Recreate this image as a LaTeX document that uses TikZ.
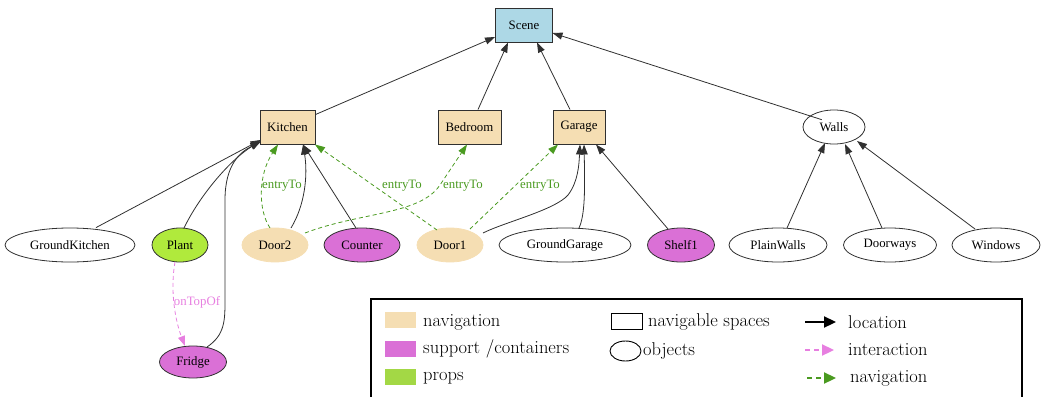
\documentclass[tikz,border=0pt]{standalone}
\usepackage{fontspec}
\setmainfont{Liberation Serif}
\newfontfamily\legendfont{Latin Modern Roman}
\usetikzlibrary{arrows.meta,shapes.geometric}
\definecolor{sceneblue}{HTML}{ADD8E6}
\definecolor{navwheat}{HTML}{F5DEB3}
\definecolor{suporchid}{HTML}{DA70D6}
\definecolor{propgreen}{HTML}{B0EA3C}
\definecolor{propswatch}{HTML}{A3D845}
\definecolor{navgreen}{HTML}{4A9A20}
\definecolor{interviolet}{HTML}{E77FE0}
\definecolor{edgegray}{HTML}{303030}
\tikzset{
  gfont/.style={font=\fontsize{12.8}{14}\selectfont},
  room/.style={gfont, draw=edgegray, line width=0.9pt, rectangle, inner sep=0pt, minimum height=34pt},
  obj/.style={gfont, draw=edgegray, line width=0.8pt, ellipse, inner sep=0pt, minimum height=34pt},
  loc/.style={draw=edgegray, line width=0.8pt, -{Triangle[length=10pt,width=7pt]}},
  nav/.style={draw=navgreen, line width=0.8pt, dash pattern=on 4pt off 3pt, -{Triangle[length=10pt,width=7pt,fill=navgreen]}},
  inter/.style={draw=interviolet, line width=0.8pt, dash pattern=on 4pt off 3pt, -{Triangle[length=10pt,width=7pt,fill=interviolet]}},
  navlbl/.style={gfont, text=navgreen, inner sep=1pt},
  interlbl/.style={gfont, text=interviolet, inner sep=1pt},
  lg/.style={font=\legendfont\fontsize{18.5}{21}\selectfont, anchor=west, inner sep=0pt},
}
\begin{document}
\begin{tikzpicture}[x=1pt,y=-1pt]
\useasboundingbox (0,0) rectangle (1051,396);
% top
\node[room, fill=sceneblue, minimum width=57pt] (scene) at (524,25) {Scene};
\node[room, fill=navwheat, minimum width=55pt] (kitchen) at (287.5,127) {Kitchen};
\node[room, fill=navwheat, minimum width=63pt] (bedroom) at (469.5,127) {Bedroom};
\node[room, fill=navwheat, minimum width=52pt] (garage) at (579,127) {Garage};
\node[obj, minimum width=62pt] (walls) at (834,127) {Walls};
% bottom row
\node[obj, minimum width=130pt] (gk) at (70,245) {GroundKitchen};
\node[obj, fill=propgreen, minimum width=56pt] (plant) at (180,245) {Plant};
\node[obj, draw=navwheat, fill=navwheat, minimum width=66pt] (door2) at (275,245) {Door2};
\node[obj, fill=suporchid, minimum width=76pt] (counter) at (362,245) {Counter};
\node[obj, draw=navwheat, fill=navwheat, minimum width=66pt] (door1) at (450,245) {Door1};
\node[obj, minimum width=132pt] (gg) at (565,245) {GroundGarage};
\node[obj, fill=suporchid, minimum width=67pt] (shelf) at (681,245) {Shelf1};
\node[obj, minimum width=98pt] (plainwalls) at (778,245) {PlainWalls};
\node[obj, minimum width=93pt] (doorways) at (890,245) {Doorways};
\node[obj, minimum width=88pt] (windows) at (996,245) {Windows};
\node[obj, fill=suporchid, minimum width=67pt, minimum height=32pt] (fridge) at (193,362) {Fridge};
% location edges
\draw[loc] (kitchen.north east) ++(0,5) coordinate (k1) (k1) -- (scene.south west |- 0,37);
\draw[loc] (bedroom.north) ++(8.5,0) coordinate (b1) (b1) -- (508,42.5);
\draw[loc] (garage.north) ++(-9,0) coordinate (g1) (g1) -- (537,42.5);
\draw[loc] (walls.north west) ++(10,5) coordinate (w1) (w1) -- (552.5,33);
\draw[loc] (gk.north) ++(26,0) coordinate (gk1) (gk1) -- (260.5,140);
\draw[loc] (plant) ++(4,-17) coordinate (p1) (p1) .. controls (200,195) and (230,160) .. (260.5,141);
\draw[loc] (fridge) ++(14,-15) coordinate (f1) (f1) .. controls (225,335) and (225,320) .. (225,300) -- (225,200) .. controls (225,165) and (240,152) .. (260.5,142);
\draw[loc] (door2) ++(16,-17) coordinate (d2a) (d2a) .. controls (305,205) and (308,175) .. (303,144.5);
\draw[loc] (counter) ++(-6,-17) coordinate (c1) (c1) -- (303,144.5);
\draw[loc] (door1) ++(33,-12) coordinate (d1a) (d1a) .. controls (505,222) and (555,210) .. (568,195) .. controls (578,182) and (579,165) .. (580,144.5);
\draw[loc] (gg) ++(14,-17) coordinate (gg1) (gg1) .. controls (585,215) and (585,190) .. (584,144.5);
\draw[loc] (shelf) ++(-13,-16) coordinate (s1) (s1) -- (596,144.5);
\draw[loc] (plainwalls) ++(9,-17) coordinate (pw1) (pw1) -- (825,143);
\draw[loc] (doorways) ++(-8,-17) coordinate (dw1) (dw1) -- (845,144);
\draw[loc] (windows) ++(-21,-16) coordinate (wi1) (wi1) -- (857,141);
% navigation edges
\draw[nav] (door2) ++(-5,-17) coordinate (d2b) (d2b) .. controls (258,210) and (258,175) .. (278,144.5);
\node[navlbl] (lblk2) at (282,186) {entryTo};
\draw[nav] (door1) ++(-13,-15) coordinate (d1b) (d1b) -- (315,144.5);
\node[navlbl] (lblk1) at (402,186) {entryTo};
\draw[nav] (door2) ++(30,-12) coordinate (d2c) (d2c) .. controls (360,212) and (420,215) .. (440,185) -- (467,144.5);
\node[navlbl] (lblbed) at (463,186) {entryTo};
\draw[nav] (door1) ++(20,-16) coordinate (d1c) (d1c) -- (558,144.5);
\node[navlbl] (lblgar) at (540,186) {entryTo};
% interaction
\draw[inter] (plant) ++(-5,17) coordinate (pl2) (pl2) .. controls (170,290) and (175,320) .. (185,346);
\node[interlbl] (lbltop) at (197,302) {onTopOf};
% legend
\draw[line width=1.4pt] (371,299) rectangle (1022,400);
\node[fill=navwheat, minimum width=31pt, minimum height=16pt, inner sep=0pt] (sw1) at (400.5,320) {};
\node[lg] (t1) at (423,322) {navigation};
\node[fill=suporchid, minimum width=31pt, minimum height=16pt, inner sep=0pt] (sw2) at (400.5,348.5) {};
\node[lg] (t2) at (423,349) {support /containers};
\node[fill=propswatch, minimum width=31pt, minimum height=16pt, inner sep=0pt] (sw3) at (400.5,376.5) {};
\node[lg] (t3) at (423,378) {props};
\node[draw, line width=0.9pt, minimum width=31pt, minimum height=16pt, inner sep=0pt] (sw4) at (626.5,321) {};
\node[lg] (t4) at (648,322) {navigable spaces};
\node[draw, ellipse, line width=0.9pt, minimum width=31pt, minimum height=20pt, inner sep=0pt] (sw5) at (625.5,351) {};
\node[lg] (t5) at (643,351) {objects};
\coordinate (la1) at (805,322); \coordinate (la2) at (836,322);
\draw[line width=2.2pt, -{Triangle[length=12pt,width=11pt]}] (la1) -- (la2);
\node[lg] (t6) at (848,322) {location};
\coordinate (ia1) at (805,350); \coordinate (ia2) at (834,350);
\draw[line width=2.2pt, draw=interviolet, dash pattern=on 5pt off 4pt, -{Triangle[length=12pt,width=11pt,fill=interviolet]}] (ia1) -- (ia2);
\node[lg] (t7) at (848,350) {interaction};
\coordinate (na1) at (807,378); \coordinate (na2) at (836,378);
\draw[line width=2.2pt, draw=navgreen, dash pattern=on 5pt off 4pt, -{Triangle[length=12pt,width=11pt,fill=navgreen]}] (na1) -- (na2);
\node[lg] (t8) at (850,378) {navigation};
\end{tikzpicture}
\end{document}
